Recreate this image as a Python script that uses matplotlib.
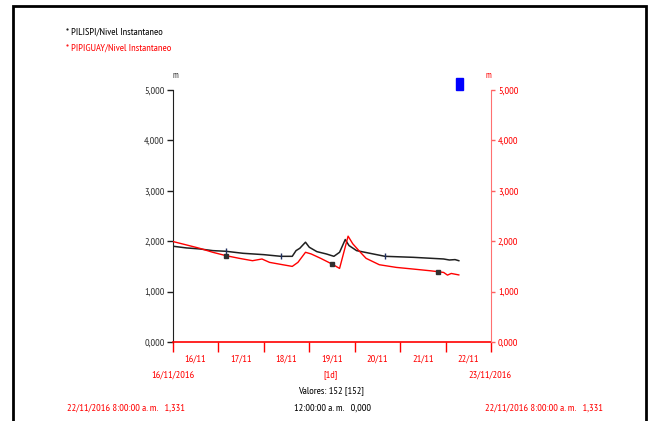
import matplotlib
matplotlib.use('Agg')
import matplotlib.pyplot as plt
from matplotlib.patches import Rectangle

plt.rcParams['font.family'] = ['Liberation Sans Narrow', 'PT Sans Narrow', 'Archivo Narrow', 'DejaVu Sans']

# hours since 16/11/2016 00:00
black_t = [0, 7, 14, 21, 28, 37, 48, 57, 63, 65, 67, 70, 72, 76, 81, 85, 88, 91, 93, 97,
           104, 112, 127, 143, 146, 149, 151]
black_v = [1900, 1867, 1847, 1813, 1800, 1760, 1733, 1700, 1700, 1813, 1860, 1980, 1880,
           1793, 1747, 1700, 1780, 2033, 1913, 1813, 1760, 1700, 1680, 1647, 1627, 1635, 1613]
black_marks = [28, 57, 112]

red_t = [0, 7, 14, 21, 28, 35, 42, 47, 51, 58, 63, 66, 70, 73, 78, 84, 88, 92.5, 95, 99,
         102, 109, 118, 127, 136, 140, 143, 145, 147, 151]
red_v = [1993, 1927, 1860, 1780, 1713, 1660, 1613, 1647, 1580, 1533, 1500, 1580, 1780, 1747,
         1660, 1547, 1460, 2100, 1947, 1780, 1660, 1533, 1480, 1447, 1413, 1395, 1380, 1327,
         1360, 1331]
red_marks = [28, 84, 140]

day_labels = ['16/11', '17/11', '18/11', '19/11', '20/11', '21/11', '22/11']
y_ticks = [0, 1000, 2000, 3000, 4000, 5000]
y_labels = ['0,000', '1,000', '2,000', '3,000', '4,000', '5,000']

RED = '#ff0000'
fs = 7.5

fig = plt.figure(figsize=(6.51, 4.21), dpi=100)
fig.patches.append(Rectangle((13 / 651, -0.05), 633 / 651, 1 - 6 / 421 + 0.05,
                             transform=fig.transFigure, fill=False, lw=2, ec='black'))

ax = fig.add_axes([173 / 651, (421 - 342) / 421, 318 / 651, 252 / 421])
ax2 = ax.twinx()

ax.plot(black_t, black_v, color='#202020', lw=1.1,
        marker='|', markevery=[black_t.index(m) for m in black_marks], ms=5, mec='#203060')
ax2.plot(red_t, red_v, color=RED, lw=1.0,
         marker='s', markevery=[red_t.index(m) for m in red_marks], ms=2.5, mfc='#303030', mec='#303030')

for a in (ax, ax2):
    a.set_xlim(0, 168)
    a.set_ylim(0, 5000)
    a.spines['top'].set_visible(False)

ax.set_yticks(y_ticks)
ax.set_yticklabels(y_labels, fontsize=fs, color='#333333')
ax.tick_params(axis='y', length=4, width=1, color='#202020', pad=2)
ax.spines['left'].set_color('#202020')
ax.spines['right'].set_visible(False)
ax.spines['bottom'].set_color(RED)
ax.spines['bottom'].set_linewidth(1.2)

ax2.set_yticks(y_ticks)
ax2.set_yticklabels(y_labels, fontsize=fs, color=RED)
ax2.tick_params(axis='y', length=3, width=1, color='#ff6060', pad=2)
ax2.spines['right'].set_color('#ff7070')
ax2.spines['left'].set_visible(False)
ax2.spines['bottom'].set_visible(False)

ax.set_xticks([24 * i for i in range(8)])
ax.set_xticklabels([])
ax.set_xticks([24 * i + 12 for i in range(7)], minor=True)
ax.set_xticklabels(day_labels, minor=True, fontsize=fs, color=RED)
ax.tick_params(axis='x', which='major', direction='out', length=7, width=1, color=RED)
ax.tick_params(axis='x', which='minor', length=0, pad=9)

# labels around the plot
fig.text(66 / 651, 1 - 32 / 421, '* PILISPI/Nivel Instantaneo', fontsize=fs, color='black', va='center')
fig.text(66 / 651, 1 - 48 / 421, '* PIPIGUAY/Nivel Instantaneo', fontsize=fs, color=RED, va='center')
fig.text(175 / 651, 1 - 76 / 421, 'm', fontsize=6.5, color='#333333', ha='center', va='center')
fig.text(488 / 651, 1 - 76 / 421, 'm', fontsize=6.5, color=RED, ha='center', va='center')
fig.patches.append(Rectangle((456 / 651, 1 - 90 / 421), 7 / 651, 12 / 421,
                             transform=fig.transFigure, color='#0000ff'))

fig.text(173 / 651, 1 - 375 / 421, '16/11/2016', fontsize=fs, color=RED, ha='center', va='center')
fig.text(490 / 651, 1 - 375 / 421, '23/11/2016', fontsize=fs, color=RED, ha='center', va='center')
fig.text(331 / 651, 1 - 375 / 421, '[1d]', fontsize=fs, color=RED, ha='center', va='center')
fig.text(331 / 651, 1 - 391 / 421, 'Valores: 152 [152]', fontsize=fs, color='black', ha='center', va='center')
fig.text(333 / 651, 1 - 408 / 421, '12:00:00 a. m.   0,000', fontsize=fs, color='black', ha='center', va='center')
fig.text(67 / 651, 1 - 408 / 421, '22/11/2016 8:00:00 a. m.   1,331', fontsize=fs, color=RED, va='center')
fig.text(485 / 651, 1 - 408 / 421, '22/11/2016 8:00:00 a. m.   1,331', fontsize=fs, color=RED, va='center')

fig.savefig('out.png', dpi=100)
